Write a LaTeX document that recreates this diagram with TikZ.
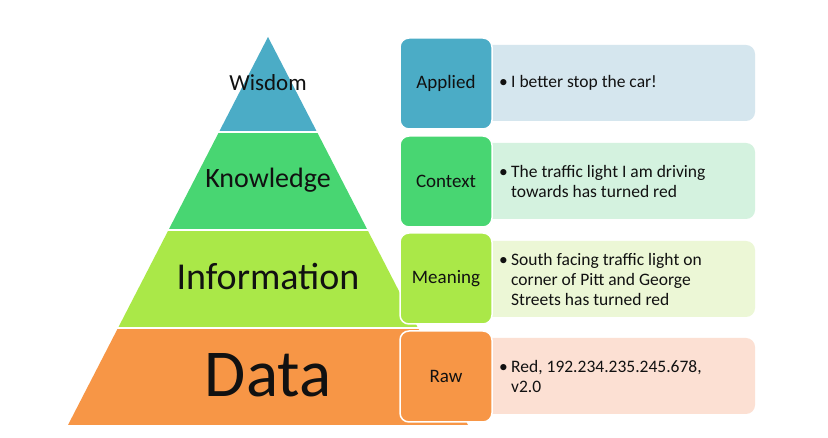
\documentclass[tikz,border=0pt]{standalone}
\usepackage{fontspec}
\setmainfont{Carlito}
\definecolor{cW}{HTML}{4BACC6}
\definecolor{cK}{HTML}{48D672}
\definecolor{cI}{HTML}{AAE848}
\definecolor{cD}{HTML}{F79646}
\definecolor{lW}{HTML}{D5E6EE}
\definecolor{lK}{HTML}{D4F2DF}
\definecolor{lI}{HTML}{ECF7D6}
\definecolor{lD}{HTML}{FCE0D3}
\definecolor{ink}{HTML}{111111}
\tikzset{
  lblbox/.style={rectangle, rounded corners=9pt, draw=white, line width=1.5pt, minimum width=92pt, minimum height=91pt, inner sep=0pt, text=ink, font=\fontsize{19}{22}\selectfont},
  descbox/.style={rectangle, rounded corners=9pt, minimum width=285pt, minimum height=76pt, inner sep=0pt},
  desctext/.style={anchor=west, inner sep=0pt, text=ink, font=\fontsize{17.5}{20}\selectfont},
  tiertext/.style={inner sep=0pt, text=ink}
}
\newcommand{\bul}[1]{\parbox[c]{250pt}{\raggedright\hangindent=12pt\hangafter=1\makebox[12pt][l]{\textbullet}#1}}
\begin{document}
\begin{tikzpicture}[x=1pt,y=-1pt]
\useasboundingbox (0,0) rectangle (828,438);
\fill[white] (0,0) rectangle (828,438);
% pyramid tiers
\fill[cW] (268,37) -- (317,132) -- (219,132) -- cycle;
\fill[cK] (219,132) -- (317,132) -- (367.5,230) -- (168.5,230) -- cycle;
\fill[cI] (168.5,230) -- (367.5,230) -- (418,328) -- (118,328) -- cycle;
\fill[cD] (118,328) -- (418,328) -- (468,425) -- (68,425) -- cycle;
\draw[white, line width=2pt] (210,132) -- (330,132) (160,230) -- (380,230) (110,328) -- (430,328);
\node[tiertext, font=\fontsize{23}{27}\selectfont] (wis) at (268,83) {Wisdom};
\node[tiertext, font=\fontsize{28}{33}\selectfont] (kno) at (268,180) {Knowledge};
\node[tiertext, font=\fontsize{38}{45}\selectfont] (inf) at (268,277) {Information};
\node[tiertext, font=\fontsize{67}{80}\selectfont] (dat) at (268,375) {Data};
% description boxes
\node[descbox, fill=lW] (dW) at (612.5,83) {};
\node[descbox, fill=lK] (dK) at (612.5,181) {};
\node[descbox, fill=lI] (dI) at (612.5,279) {};
\node[descbox, fill=lD] (dD) at (612.5,376) {};
\node[desctext] (tW) at (499,83) {\bul{I better stop the car!}};
\node[desctext] (tK) at (499,181) {\bul{The traffic light I am driving\newline towards has turned red}};
\node[desctext] (tI) at (499,279) {\bul{South facing traffic light on\newline corner of Pitt and George\newline Streets has turned red}};
\node[desctext] (tD) at (499,376) {\bul{Red, 192.234.235.245.678,\newline v2.0}};
% label boxes
\node[lblbox, fill=cW] (bW) at (446,83.5) {Applied};
\node[lblbox, fill=cK] (bK) at (446,181.5) {Context};
\node[lblbox, fill=cI] (bI) at (446,278.5) {Meaning};
\node[lblbox, fill=cD] (bD) at (446,376.5) {Raw};
\end{tikzpicture}
\end{document}
